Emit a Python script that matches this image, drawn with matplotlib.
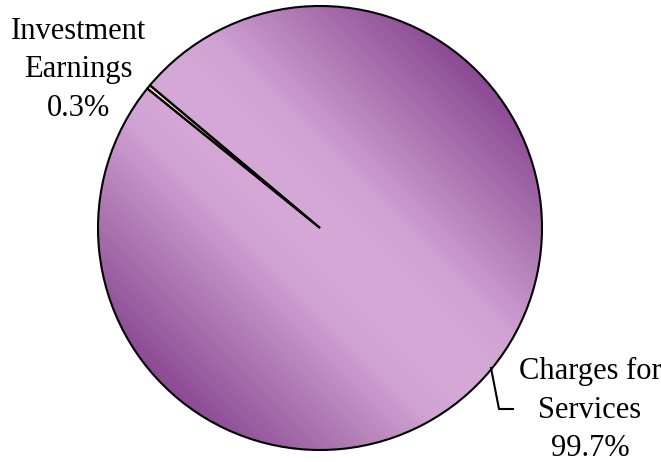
import numpy as np
import matplotlib
matplotlib.use("Agg")
import matplotlib.pyplot as plt
from matplotlib.colors import LinearSegmentedColormap

labels = ["Investment\nEarnings", "Charges for\nServices"]
shares = [0.3, 99.7]

fig = plt.figure(figsize=(6.61, 4.62), dpi=100)
ax = fig.add_axes([0, 0, 1, 1])

cx, cy, r = 320, 234, 222

wedges, _ = ax.pie(shares, startangle=140, counterclock=True,
                   center=(cx, cy), radius=r, frame=True,
                   colors=["#ece6c4", "none"],
                   wedgeprops=dict(edgecolor="black", linewidth=1.5))

# diagonal shading: dark toward upper right and lower left, wide light band through the middle
cmap = LinearSegmentedColormap.from_list(
    "plum", [(0.0, "#8c4a94"), (0.2, "#b07bb4"), (0.38, "#d2a4d5"),
             (0.5, "#d5a8d7"), (0.62, "#d2a4d5"), (0.8, "#b07bb4"),
             (1.0, "#8c4a94")])
xs = np.linspace(cx - r, cx + r, 400)
ys = np.linspace(cy - r, cy + r, 400)
X, Y = np.meshgrid(xs, ys)
t = ((X - cx) + (Y - cy)) / (np.sqrt(2) * r)
grad = np.clip((t + 1) / 2, 0, 1)
img = ax.imshow(grad, cmap=cmap, origin="lower", vmin=0, vmax=1,
                extent=(cx - r, cx + r, cy - r, cy + r), zorder=0,
                interpolation="bilinear")
img.set_clip_path(wedges[1])

ax.set_xlim(0, 661)
ax.set_ylim(0, 462)
ax.set_aspect("equal")
ax.axis("off")

font = dict(family="Liberation Serif", fontsize=22, ha="center",
            va="center", linespacing=1.42)
ax.text(78, 462 - 70, f"{labels[0]}\n{shares[0]:.1f}%", **font)
ax.text(590, 462 - 410, f"{labels[1]}\n{shares[1]:.1f}%", **font)

# leader line for the large slice label
ax.plot([491, 499, 513], [462 - 368, 462 - 409, 462 - 409],
        color="black", linewidth=1.5)

fig.savefig("out.png", dpi=100)
